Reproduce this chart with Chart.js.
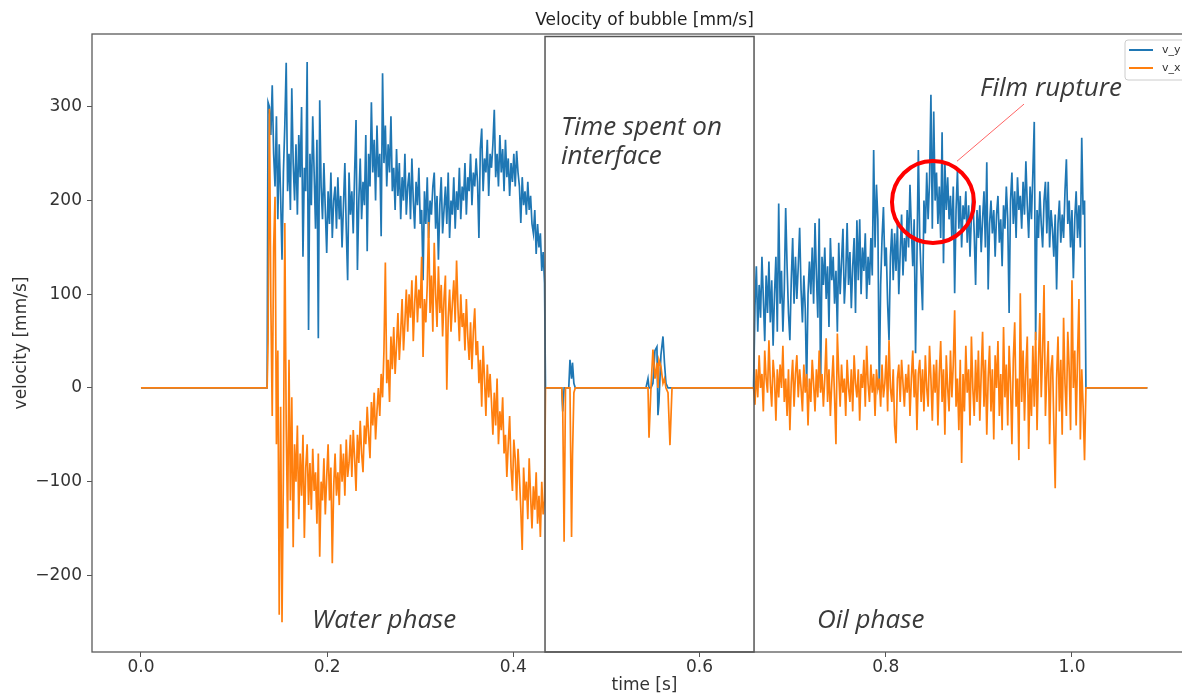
<!DOCTYPE html>
<html>
<head>
<meta charset="utf-8">
<title>Velocity of bubble</title>
<script src="https://cdn.jsdelivr.net/npm/chart.js@4.4.1/dist/chart.umd.min.js"></script>
<style>
  html, body { margin: 0; padding: 0; background: #fff; overflow: hidden; }
  #wrap { position: absolute; left: 0; top: 0; width: 1220px; height: 696px; }
</style>
</head>
<body>
<div id="wrap"><canvas id="velocityChart" width="1220" height="696"></canvas></div>
<script>
// frames are 1.5 ms apart inside the water and oil phases
const STEP = 0.0015;
const WATER_T0 = 0.1365;
const OIL_T0 = 0.6595;

// before the bubble enters the view
const leadT = [0, 0.1355];
const leadV = [0, 0];

// water phase (199 frames)
const waterVy = [
  305, 300, 270, 323, 250, 215, 290, 180, 260, 205,
  137, 230, 280, 347, 210, 250, 190, 320, 240, 200,
  260, 185, 270, 225, 300, 140, 235, 210, 348, 62,
  250, 195, 290, 230, 170, 265, 53, 307, 215, 180,
  240, 190, 144, 210, 175, 230, 160, 200, 215, 170,
  225, 180, 205, 150, 195, 240, 170, 115, 230, 185,
  210, 165, 230, 286, 126, 200, 245, 180, 220, 195,
  270, 146, 250, 215, 305, 230, 265, 200, 280, 225,
  250, 162, 336, 240, 280, 215, 260, 230, 290, 210,
  235, 190, 255, 205, 240, 180, 225, 200, 250, 185,
  215, 230, 180, 245, 200, 170, 220, 195, 235, 175,
  190, 115, 210, 175, 225, 160, 200, 185, 215, 230,
  170, 205, 137, 195, 225, 165, 190, 215, 175, 230,
  160, 200, 185, 225, 170, 210, 190, 235, 180, 215,
  200, 240, 185, 225, 210, 250, 195, 230, 215, 245,
  220, 160, 255, 277, 210, 245, 230, 265, 205, 250,
  235, 260, 297, 225, 250, 215, 270, 230, 255, 210,
  265, 225, 245, 205, 240, 220, 250, 215, 253, 230,
  215, 176, 225, 195, 210, 185, 220, 190, 205, 175,
  165, 190, 143, 175, 150, 165, 125, 145, 112
];
const waterVx = [
  50, 298, 90, -30, 150, 204, -60, 40, -242, -20,
  -250, -90, 176, -40, -150, 30, -120, -10, -170, -60,
  -100, -40, -140, -70, -115, -50, -160, -85, -60, -125,
  -80, -130, -65, -110, -90, -145, -70, -180, -100, -120,
  -75, -135, -95, -60, -120, -85, -187, -105, -70, -115,
  -90, -125, -60, -100, -70, -115, -55, -95, -80, -50,
  -95, -45, -75, -110, -50, -80, -35, -70, -90, -40,
  -60, -20, -50, -75, -15, -40, -5, -55, -25, 0,
  -30, 15, -10, 40, 134, 5, 30, -15, 55, 20,
  65, 15, 45, 80, 30, 60, 95, 40, 70, 105,
  60, 100, 75, 115, 50, 90, 120, 70, 105, 85,
  140, 33, 95, 70, 110, 177, 80, 120, 60, 155,
  100, 65, 130, 80, 110, 55, 95, 120, -2, 75,
  105, 60, 90, 115, 70, 136, 85, 50, 100, 65,
  80, 40, 95, 55, 30, 70, 20, 60, 85, 35,
  50, 5, 30, -20, 45, 10, -30, 25, -10, 15,
  -15, -50, -5, -40, 10, -60, -25, -45, -10, -70,
  -50, -95, -60, -30, -85, -110, -55, -75, -120, -65,
  -95, -130, -173, -85, -120, -100, -140, -75, -115, -150,
  -105, -130, -90, -145, -115, -159, -100, -135, -120
];

// time spent on the interface
const interfaceT = [
  0.4345, 0.4520, 0.4530, 0.4545, 0.4560, 0.4595, 0.4608, 0.4625, 0.4635, 0.4650, 0.4665,
  0.5424, 0.5446, 0.5457, 0.5478, 0.5499, 0.5521, 0.5542, 0.5553, 0.5564, 0.5585,
  0.5607, 0.5623, 0.5639, 0.5661, 0.5682, 0.5704, 0.6580
];
const interfaceVy = [
  0, 0, -25, 0, 0, 0, 30, 10, 27, 5, 0,
  0, 10, 0, 0, 5, 40, 44, -29, -15, 35,
  55, 27, 5, 0, 0, 0, 0
];
const interfaceVx = [
  0, 0, -20, -164, 0, 0, 0, -159, -73, -5, 0,
  0, 0, -53, 0, 41, 10, 27, 0, 30, 23,
  5, 10, 0, -5, -61, 0, 0
];

// oil phase (237 frames)
const oilVy = [
  87, 130, 60, 110, 75, 140, 95, 50, 120, 80,
  135, 70, 115, 45, 100, 140, 60, 197, 90, 125,
  60, 105, 192, 130, 80, 51, 115, 160, 90, 140,
  95, 130, 171, 105, 70, 120, 85, 1, 100, 135,
  100, 150, 90, 176, 120, 75, 181, 0, 140, 110,
  150, 95, 130, 65, 160, 115, 140, 90, 125, 60,
  155, 100, 135, 170, 90, 120, 176, 110, 145, 85,
  130, 160, 80, 179, 115, 180, 100, 150, 125, 165,
  95, 140, 110, 160, 120, 254, 150, 217, 180, -2,
  110, 160, 193, 130, 150, 90, 51, 140, 170, 115,
  165, 125, 175, 100, 145, 185, 120, 160, 135, 190,
  150, 217, 170, 130, 180, 37, 140, 254, 160, 120,
  83, 200, 165, 230, 180, 220, 313, 170, 295, 200,
  230, 175, 215, 160, 273, 133, 240, 190, 225, 180,
  205, 160, 215, 101, 190, 232, 170, 205, 150, 195,
  180, 210, 155, 195, 140, 185, 205, 165, 110, 190,
  160, 195, 145, 180, 210, 150, 241, 105, 175, 200,
  165, 190, 140, 185, 205, 155, 180, 130, 195, 170,
  215, 180, 80, 200, 230, 175, 210, 160, 225, 190,
  205, 170, 220, 185, 242, 195, 160, 215, 180, 230,
  284, 51, 190, 160, 210, 175, 150, 200, 220, 165,
  220, 150, 190, 170, 140, 185, 105, 175, 200, 155,
  185, 160, 210, 244, 175, 200, 150, 190, 117, 180,
  210, 160, 195, 150, 267, 185, 200
];
const oilVx = [
  -18, 20, -10, 35, 0, 15, -25, 40, 10, -5,
  51, 5, -20, 30, 10, -35, 20, -10, 25, 0,
  45, -15, 10, -30, 20, -45, 5, 30, -20, 15,
  35, -10, 20, 0, -25, 25, -5, 15, -40, 10,
  -15, 30, 5, -25, 20, -10, 40, -5, 15, -20,
  10, 53, -15, 20, -30, 5, 35, -10, -60, 58,
  15, -20, 25, -5, 10, -30, 30, 0, -15, 20,
  -25, 35, 5, -10, 20, -35, 15, 0, 30, -20,
  45, 5, -15, 25, -5, 15, -30, 20, 0, 10,
  -20, 25, -10, 5, 35, -25, 51, 0, -15, 20,
  -40, -59, 10, 25, -15, 30, 5, -20, 15, -5,
  25, -30, 10, 40, -10, 20, -45, 15, 30, -15,
  20, -25, 35, 0, -20, 45, 10, -35, 25, -5,
  30, -40, 15, 50, -15, 20, -50, 35, 0, -25,
  40, -10, 25, 83, -20, 10, -45, 30, -80, 15,
  -25, 45, -5, 20, -40, 55, 0, -30, 30, -15,
  40, -35, 15, 60, -20, 30, -50, 10, 45, -25,
  20, -55, 35, 0, 50, -30, 15, -45, 65, -10,
  25, -40, 45, 5, -60, 30, 70, -20, 10, -77,
  101, -15, 40, -35, 20, 55, -65, 10, -30, 45,
  -20, 60, -45, 25, 80, -10, 40, 110, -30, 15,
  50, -60, 20, 35, -40, -107, 10, 55, -25, 30,
  -50, 75, 5, -30, 60, 20, -45, 115, 0, 40,
  -40, 35, 95, -55, 20, -20, -77
];

// bubble has left the view
const tailT = [1.0150, 1.081];
const tailV = [0, 0];

const xTickValues = [0, 0.2, 0.4, 0.6, 0.8, 1.0];
const yTickValues = [-200, -100, 0, 100, 200, 300];

function segment(t0, vals) {
  return vals.map((v, i) => ({ x: +(t0 + i * STEP).toFixed(5), y: v }));
}
function pairs(ts, vals) {
  return ts.map((t, i) => ({ x: t, y: vals[i] }));
}

const vyPoints = [].concat(
  pairs(leadT, leadV), segment(WATER_T0, waterVy), pairs(interfaceT, interfaceVy),
  segment(OIL_T0, oilVy), pairs(tailT, tailV));
const vxPoints = [].concat(
  pairs(leadT, leadV), segment(WATER_T0, waterVx), pairs(interfaceT, interfaceVx),
  segment(OIL_T0, oilVx), pairs(tailT, tailV));

const FONT = "'DejaVu Sans', sans-serif";
const NOTE_FONT = "italic 26px 'Open Sans', sans-serif";

// frame, interface box, notes and the small legend
const extras = {
  id: 'extras',
  afterLayout(chart) {
    // centre the title over the axes like matplotlib does
    const a = chart.chartArea;
    chart.titleBlock.left = a.left;
    chart.titleBlock.right = a.right;
  },
  afterDraw(chart) {
    const ctx = chart.ctx;
    const a = chart.chartArea;
    const xs = chart.scales.x, ys = chart.scales.y;
    ctx.save();

    ctx.strokeStyle = '#5a5a5a';
    ctx.lineWidth = 1.3;
    ctx.strokeRect(a.left, a.top, a.right - a.left, a.bottom - a.top);

    // interface box
    const bx1 = xs.getPixelForValue(0.434), bx2 = xs.getPixelForValue(0.6585);
    ctx.strokeStyle = '#555';
    ctx.lineWidth = 1.5;
    ctx.strokeRect(bx1, a.top + 2.5, bx2 - bx1, a.bottom - a.top - 2.5);

    // film rupture marker
    ctx.strokeStyle = '#ff6464';
    ctx.lineWidth = 1;
    ctx.beginPath();
    ctx.moveTo(xs.getPixelForValue(0.8765), ys.getPixelForValue(242));
    ctx.lineTo(xs.getPixelForValue(0.9485), ys.getPixelForValue(303));
    ctx.stroke();
    ctx.strokeStyle = '#f00';
    ctx.lineWidth = 4;
    ctx.beginPath();
    ctx.arc(xs.getPixelForValue(0.8507), ys.getPixelForValue(198.5), 41, 0, Math.PI * 2);
    ctx.stroke();

    ctx.fillStyle = '#3a3a3a';
    ctx.font = NOTE_FONT;
    ctx.textAlign = 'left';
    ctx.textBaseline = 'middle';
    const notes = [
      ['Time spent on', 0.4511, 277.5],
      ['interface', 0.4511, 246.5],
      ['Film rupture', 0.9012, 319],
      ['Water phase', 0.1837, -248.7],
      ['Oil phase', 0.7261, -248.7]
    ];
    notes.forEach(n => ctx.fillText(n[0], xs.getPixelForValue(n[1]), ys.getPixelForValue(n[2])));

    // legend
    const lx = a.right - 72, ly = a.top + 6;
    ctx.fillStyle = 'rgba(255,255,255,0.8)';
    ctx.strokeStyle = '#ccc';
    ctx.lineWidth = 1;
    ctx.beginPath();
    ctx.roundRect(lx, ly, 66, 40, 3);
    ctx.fill();
    ctx.stroke();
    ctx.font = "11px " + FONT;
    chart.data.datasets.forEach((ds, i) => {
      const yy = ly + 10 + i * 18;
      ctx.strokeStyle = ds.borderColor;
      ctx.lineWidth = 2;
      ctx.beginPath();
      ctx.moveTo(lx + 4, yy);
      ctx.lineTo(lx + 28, yy);
      ctx.stroke();
      ctx.fillStyle = '#333';
      ctx.fillText(ds.label, lx + 37, yy);
    });
    ctx.restore();
  }
};

const ctx = document.getElementById('velocityChart').getContext('2d');
new Chart(ctx, {
  type: 'line',
  data: {
    datasets: [
      { label: 'v_y', data: vyPoints, borderColor: '#1f77b4', backgroundColor: '#1f77b4',
        borderWidth: 1.7, pointRadius: 0, tension: 0, order: 1 },
      { label: 'v_x', data: vxPoints, borderColor: '#ff7f0e', backgroundColor: '#ff7f0e',
        borderWidth: 1.7, pointRadius: 0, tension: 0, order: 0 }
    ]
  },
  options: {
    responsive: false,
    animation: false,
    devicePixelRatio: 1,
    parsing: false,
    layout: { padding: { left: 0, top: 0, right: 23, bottom: 0 } },
    plugins: {
      legend: { display: false },
      tooltip: { enabled: false },
      title: {
        display: true,
        text: 'Velocity of bubble [mm/s]',
        color: '#222',
        font: { family: FONT, size: 17, weight: 'normal' },
        padding: { top: 10.8, bottom: 2.8 }
      }
    },
    scales: {
      x: {
        type: 'linear',
        min: -0.0526,
        max: 1.1343,
        afterFit: s => { s.height = 44; },
        afterBuildTicks: s => { s.ticks = xTickValues.map(v => ({ value: v })); },
        border: { display: false },
        grid: { drawOnChartArea: false, drawTicks: true, tickLength: 5, color: '#555' },
        ticks: {
          color: '#333', padding: 0, maxRotation: 0, autoSkip: false,
          font: { family: FONT, size: 17 },
          callback: v => v.toFixed(1)
        },
        title: {
          display: true, text: 'time [s]', color: '#333',
          font: { family: FONT, size: 17 }, padding: { top: 0, bottom: 0 }
        }
      },
      y: {
        min: -281.8,
        max: 377.8,
        afterFit: s => { s.width = 92; },
        afterBuildTicks: s => { s.ticks = yTickValues.map(v => ({ value: v })); },
        border: { display: false },
        grid: { drawOnChartArea: false, drawTicks: true, tickLength: 5, color: '#555' },
        ticks: {
          color: '#333', padding: 5, autoSkip: false,
          font: { family: FONT, size: 17 },
          callback: v => v < 0 ? '\u2212' + Math.abs(v) : String(v)
        },
        title: {
          display: true, text: 'velocity [mm/s]', color: '#333',
          font: { family: FONT, size: 17 }, padding: { top: 11, bottom: 0 }
        }
      }
    }
  },
  plugins: [extras]
});
</script>
</body>
</html>
